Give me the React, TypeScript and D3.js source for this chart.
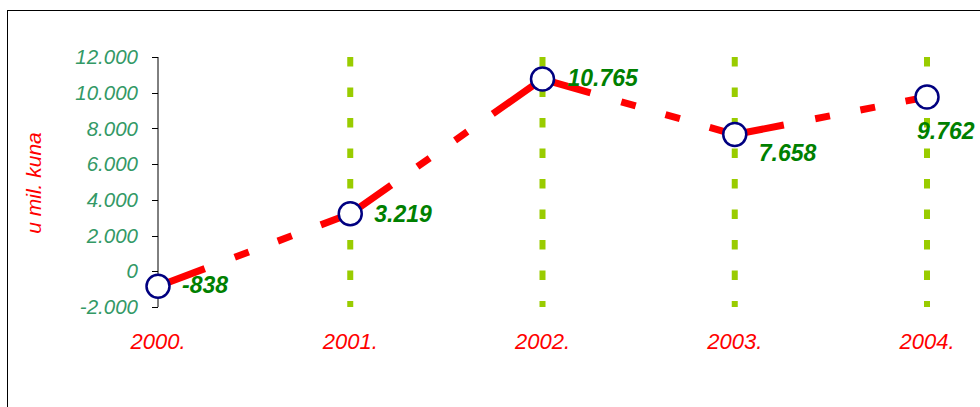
import React from "react";
import * as d3 from "d3";

const categories = ["2000.", "2001.", "2002.", "2003.", "2004."];
const values = [-838, 3219, 10765, 7658, 9762];
const valueLabels = ["-838", "3.219", "10.765", "7.658", "9.762"];
const yTicks = [-2000, 0, 2000, 4000, 6000, 8000, 10000, 12000];
const yTickLabels = ["-2.000", "0", "2.000", "4.000", "6.000", "8.000", "10.000", "12.000"];
const yTitle = "u mil. kuna";

// label placement offsets (dx from point, dy of label center from point)
const labelDx = [24, 24, 25, 24, -10];
const labelDy = [-1, 0, -1, 18, 34];

const W = 980;
const H = 407;
const FONT = "'Liberation Sans', Arial, sans-serif";

export default function App() {
  const x = d3.scalePoint<string>().domain(categories).range([158, 927]);
  const y = d3.scaleLinear().domain([-2000, 12000]).range([307, 57]);

  const pts = categories.map((c, i) => [x(c) as number, y(values[i])] as [number, number]);
  const line = d3.line<[number, number]>().x((d) => d[0]).y((d) => d[1]);
  const segs = pts.slice(0, -1).map((p, i) => line([p, pts[i + 1]]) as string);

  return (
    <div style={{ position: "absolute", left: 0, top: 0, width: W, height: H, background: "#fff" }}>
      <svg width={W} height={H} style={{ display: "block" }}>
        <rect x={7.5} y={10.5} width={1000} height={420} fill="#fff" stroke="#000" strokeWidth={1} />

        {/* vertical dotted gridlines */}
        {categories.slice(1).map((c) => (
          <line
            key={c}
            x1={x(c)}
            x2={x(c)}
            y1={y(12000)}
            y2={y(-2000)}
            stroke="#99CC00"
            strokeWidth={6}
            strokeDasharray="9.5 21"
          />
        ))}

        {/* y axis */}
        <line x1={158} x2={158} y1={y(12000)} y2={y(-2000)} stroke="#000" strokeWidth={1} />
        {yTicks.map((t, i) => (
          <g key={t}>
            <line x1={152} x2={158} y1={Math.round(y(t)) + 0.5} y2={Math.round(y(t)) + 0.5} stroke="#000" strokeWidth={1} />
            <text
              x={138}
              y={y(t)}
              dy="0.35em"
              textAnchor="end"
              fontFamily={FONT}
              fontStyle="italic"
              fontSize={20.5}
              fill="#339966"
            >
              {yTickLabels[i]}
            </text>
          </g>
        ))}

        <text
          transform={`translate(41,183) rotate(-90)`}
          textAnchor="middle"
          fontFamily={FONT}
          fontStyle="italic"
          fontSize={21}
          fill="#FF0000"
        >
          {yTitle}
        </text>

        {/* category labels */}
        {categories.map((c) => (
          <text
            key={c}
            x={x(c)}
            y={349}
            textAnchor="middle"
            fontFamily={FONT}
            fontStyle="italic"
            fontSize={22}
            fill="#FF0000"
          >
            {c}
          </text>
        ))}

        {/* line segments */}
        {segs.map((d, i) => (
          <path
            key={i}
            d={d}
            fill="none"
            stroke="#FF0000"
            strokeWidth={7}
            strokeLinecap="butt"
            strokeDasharray="50 32 15 31 15 31"
          />
        ))}

        {/* markers */}
        {pts.map((p, i) => (
          <circle key={i} cx={p[0]} cy={p[1]} r={11.5} fill="#fff" stroke="#000080" strokeWidth={2.5} />
        ))}

        {/* value labels */}
        {pts.map((p, i) => (
          <text
            key={i}
            x={p[0] + labelDx[i]}
            y={p[1] + labelDy[i]}
            dy="0.35em"
            fontFamily={FONT}
            fontStyle="italic"
            fontWeight="bold"
            fontSize={23}
            fill="#008000"
          >
            {valueLabels[i]}
          </text>
        ))}
      </svg>
    </div>
  );
}
